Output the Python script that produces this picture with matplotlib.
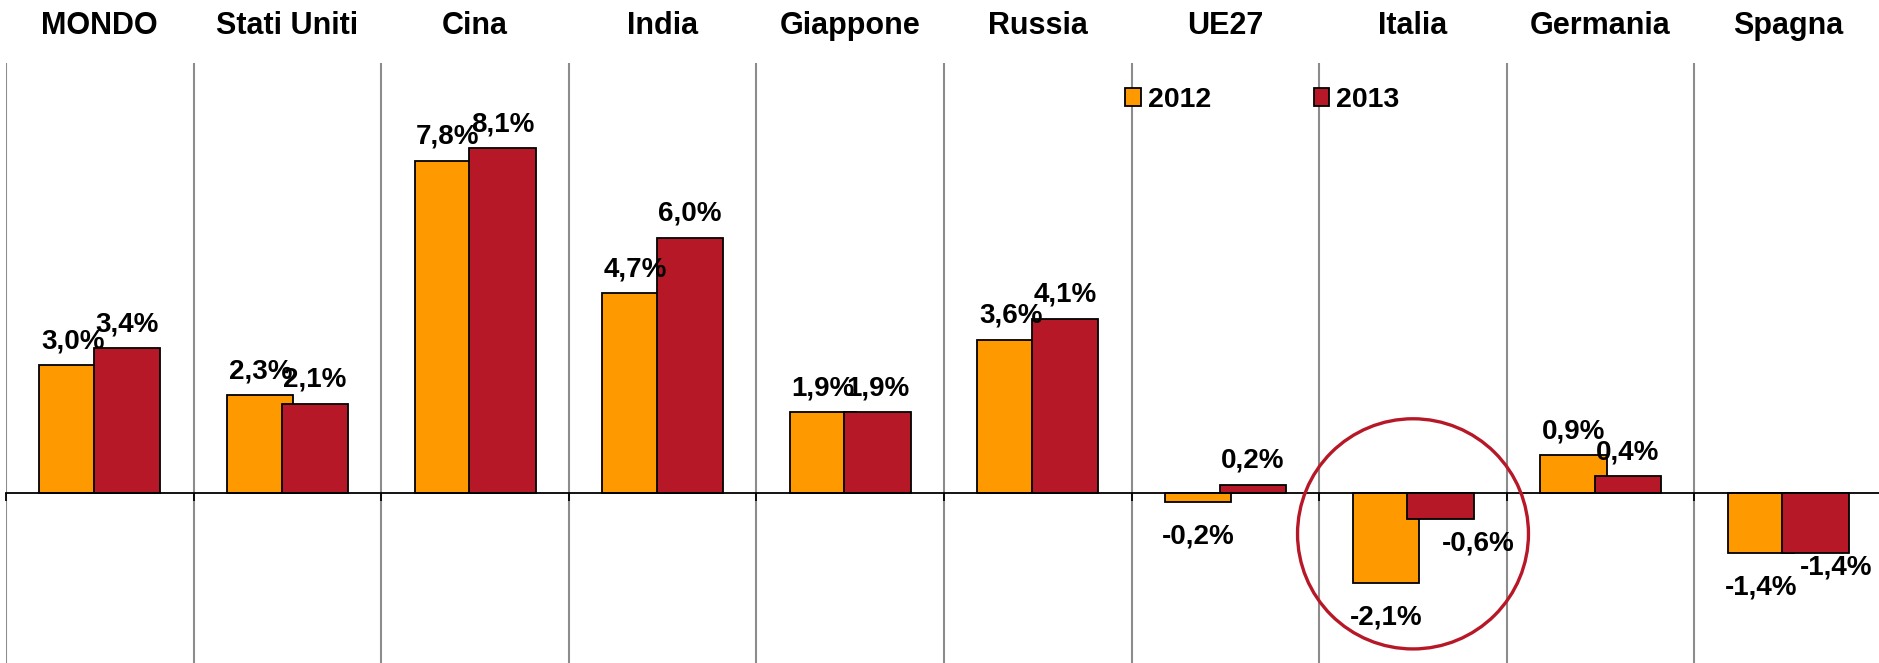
import matplotlib
matplotlib.use('Agg')
import matplotlib.pyplot as plt
import matplotlib.transforms as mtransforms
from matplotlib.patches import Ellipse, Patch
import numpy as np

plt.rcParams['font.family'] = ['Liberation Sans', 'DejaVu Sans']
plt.rcParams['font.weight'] = 'bold'

# data: crescita del PIL 2012 / 2013
paesi = ['MONDO', 'Stati Uniti', 'Cina', 'India', 'Giappone',
         'Russia', 'UE27', 'Italia', 'Germania', 'Spagna']
pil_2012 = [3.0, 2.3, 7.8, 4.7, 1.9, 3.6, -0.2, -2.1, 0.9, -1.4]
pil_2013 = [3.4, 2.1, 8.1, 6.0, 1.9, 4.1, 0.2, -0.6, 0.4, -1.4]
anni = ['2012', '2013']

ORANGE = '#FF9900'
RED = '#B71828'

W, H = 1879, 663
fig = plt.figure(figsize=(W / 100, H / 100), dpi=100)
ax = fig.add_axes([6 / W, 0, 1876 / W, 1 - 63.3 / H])

x = np.arange(len(paesi))
bw = 0.354
b1 = ax.bar(x - 0.1445, pil_2012, bw, color=ORANGE, edgecolor='black', linewidth=1.3, zorder=2)
b2 = ax.bar(x + 0.146, pil_2013, bw, color=RED, edgecolor='black', linewidth=1.3, zorder=3)

ax.set_xlim(-0.5, len(paesi) - 0.5)
ax.set_ylim(-3.98, 10.09)

# separatori verticali tra i paesi
for s in np.arange(-0.5, len(paesi) - 1):
    ax.axvline(s, color='#8c8c8c', linewidth=1.5, zorder=1)

for sp in ['top', 'right', 'left']:
    ax.spines[sp].set_visible(False)
ax.spines['bottom'].set_position(('data', 0))
ax.spines['bottom'].set_linewidth(1.3)
ax.spines['bottom'].set_zorder(4)
ax.set_xticks(np.arange(-0.5, len(paesi) - 1))
ax.tick_params(axis='x', direction='out', length=6, width=1.3, labelbottom=False)
ax.set_yticks([])


def fmt(v):
    return ('%.1f%%' % v).replace('.', ',')


# piccoli spostamenti manuali delle etichette (in punti)
nudge = {(1, 7): (27, -23), (1, 9): (15, -15.5)}

for k, (bars, vals) in enumerate([(b1, pil_2012), (b2, pil_2013)]):
    for i, (r, v) in enumerate(zip(bars, vals)):
        cx = r.get_x() + r.get_width() / 2
        if v >= 0:
            dx, dy = 0, 12.2
        else:
            dx, dy = 0, -30
        dx, dy = nudge.get((k, i), (dx, dy))
        ax.annotate(fmt(v), (cx, v), xytext=(dx, dy), textcoords='offset points',
                    ha='center', va='baseline', fontsize=20, fontweight='bold',
                    zorder=5, annotation_clip=False)

# nomi dei paesi in alto
trans = mtransforms.blended_transform_factory(ax.transData, fig.transFigure)
for i, p in enumerate(paesi):
    ax.text(i, 1 - 26 / H, p, transform=trans, ha='center', va='center',
            fontsize=22, fontweight='bold')

# legenda
handles = [Patch(facecolor=ORANGE, edgecolor='black', linewidth=1.3),
           Patch(facecolor=RED, edgecolor='black', linewidth=1.3)]
leg = fig.legend(handles, anni, loc='center left', bbox_to_anchor=(1125 / W, 1 - 100 / H),
                 bbox_transform=fig.transFigure, ncol=2, frameon=False,
                 fontsize=20.5, handlelength=0.55, handleheight=0.6, handletextpad=0.25,
                 columnspacing=3.6, borderpad=0, borderaxespad=0)
for t in leg.get_texts():
    t.set_fontweight('bold')

# cerchio attorno all'Italia
ax.add_patch(Ellipse((7.0, -0.95), 1.231, 5.40, fill=False, edgecolor=RED,
                     linewidth=2.4, zorder=6, clip_on=False))

fig.savefig('out.png', dpi=100)
